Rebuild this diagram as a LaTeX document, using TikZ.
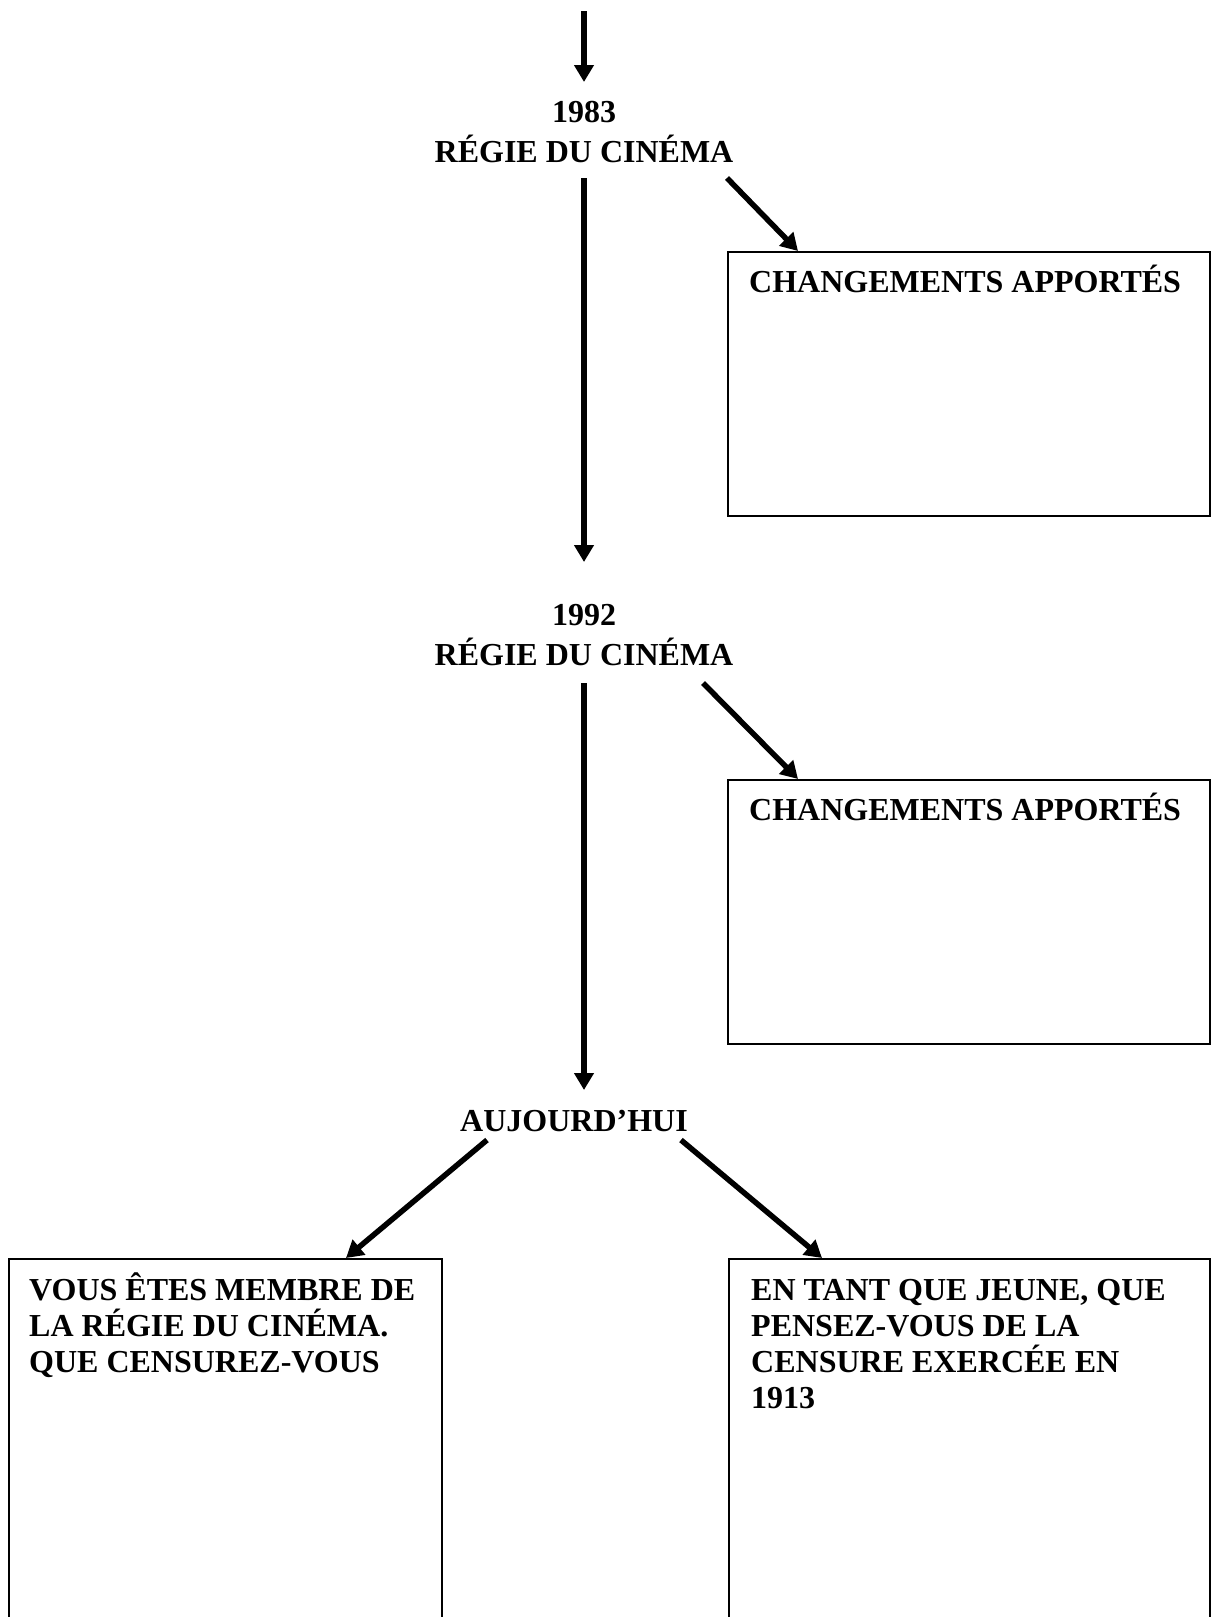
\documentclass[tikz,border=0pt]{standalone}
\usepackage{fontspec}
\setmainfont{Liberation Serif}
\usetikzlibrary{arrows.meta}
\begin{document}
\begin{tikzpicture}[x=1pt,y=-1pt,
  arr/.style={line width=5.5pt, -{Triangle[length=17pt,width=19pt]}},
  box/.style={draw, line width=2pt, anchor=north west, inner sep=0pt},
  lbl/.style={font=\bfseries\fontsize{32}{40}\selectfont, align=center, inner sep=0pt, anchor=base},
  txt/.style={font=\bfseries\fontsize{32}{36}\selectfont, align=left, inner sep=0pt, anchor=base west}]
\useasboundingbox (0,0) rectangle (1213,1617);
\clip (0,0) rectangle (1213,1617);
% labels (anchor base = last line)
\node[lbl] (y1983) at (584,162) {1983\\RÉGIE DU CINÉMA};
\node[lbl] (y1992) at (584,665) {1992\\RÉGIE DU CINÉMA};
\node[lbl] (auj) at (574,1131) {AUJOURD’HUI};
% boxes
\node[box, minimum width=482pt, minimum height=264pt] (b1) at (727,251) {};
\node[box, minimum width=482pt, minimum height=264pt] (b2) at (727,779) {};
\node[box, minimum width=433pt, minimum height=420pt] (b3) at (8,1258) {};
\node[box, minimum width=481pt, minimum height=420pt] (b4) at (728,1258) {};
% box texts
\node[txt] (t1) at (749,292) {CHANGEMENTS APPORTÉS};
\node[txt] (t2) at (749,820) {CHANGEMENTS APPORTÉS};
\node[txt] (t3) at (29,1372) {VOUS ÊTES MEMBRE DE\\LA RÉGIE DU CINÉMA.\\QUE CENSUREZ-VOUS};
\node[txt] (t4) at (751,1408) {EN TANT QUE JEUNE, QUE\\PENSEZ-VOUS DE LA\\CENSURE EXERCÉE EN\\1913};
% connector endpoints
\coordinate (top) at (584,11);
\coordinate (topE) at (584,82);
\coordinate (v1s) at (584,178);
\coordinate (v1e) at (584,562);
\coordinate (d1s) at (727,178);
\coordinate (d1e) at (798,251);
\coordinate (v2s) at (584,683);
\coordinate (v2e) at (584,1090);
\coordinate (d2s) at (703,683);
\coordinate (d2e) at (798,779);
\coordinate (d3s) at (487,1140);
\coordinate (d3e) at (346,1258);
\coordinate (d4s) at (681,1140);
\coordinate (d4e) at (822,1258);
% connectors
\draw[arr] (top) -- (topE);
\draw[arr] (v1s) -- (v1e);
\draw[arr] (d1s) -- (d1e);
\draw[arr] (v2s) -- (v2e);
\draw[arr] (d2s) -- (d2e);
\draw[arr] (d3s) -- (d3e);
\draw[arr] (d4s) -- (d4e);
\end{tikzpicture}
\end{document}
